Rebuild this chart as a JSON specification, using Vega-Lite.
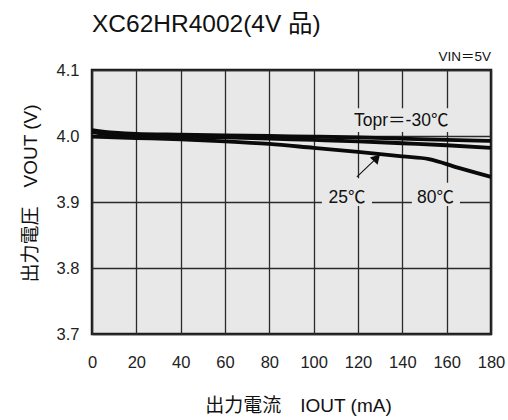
{
  "$schema": "https://vega.github.io/schema/vega-lite/v6.json",
  "width": 399,
  "height": 264,
  "autosize": {"type": "none"},
  "padding": {"left": 92, "top": 70, "right": 17, "bottom": 86},
  "background": "white",
  "title": {
    "text": "XC62HR4002(4V 品)",
    "anchor": "start",
    "frame": "group",
    "offset": 12,
    "fontSize": 24.5,
    "fontWeight": "normal",
    "font": "Liberation Sans, Noto Sans CJK JP",
    "color": "#111"
  },
  "config": {
    "view": {"fill": "#e8e8e8", "stroke": "#1a1a1a", "strokeWidth": 2.5},
    "font": "Liberation Sans, Noto Sans CJK JP",
    "axis": {
      "domain": false,
      "ticks": false,
      "grid": true,
      "gridColor": "#2a2a2a",
      "gridWidth": 1.3,
      "gridOpacity": 1,
      "labelFont": "Liberation Sans",
      "labelFontSize": 16.5,
      "labelColor": "#222",
      "labelFlush": false,
      "labelOverlap": false,
      "titleFont": "Liberation Sans, Noto Sans CJK JP",
      "titleFontSize": 19,
      "titleFontWeight": "normal",
      "titleColor": "#111"
    }
  },
  "datasets": {
    "curves": [
      {"iout": 0, "vout": 4.009, "series": "-30℃"},
      {"iout": 10, "vout": 4.005, "series": "-30℃"},
      {"iout": 20, "vout": 4.003, "series": "-30℃"},
      {"iout": 40, "vout": 4.002, "series": "-30℃"},
      {"iout": 60, "vout": 4.001, "series": "-30℃"},
      {"iout": 80, "vout": 4.0, "series": "-30℃"},
      {"iout": 100, "vout": 3.999, "series": "-30℃"},
      {"iout": 120, "vout": 3.998, "series": "-30℃"},
      {"iout": 140, "vout": 3.996, "series": "-30℃"},
      {"iout": 160, "vout": 3.994, "series": "-30℃"},
      {"iout": 180, "vout": 3.9925, "series": "-30℃"},
      {"iout": 0, "vout": 4.006, "series": "80℃"},
      {"iout": 10, "vout": 4.002, "series": "80℃"},
      {"iout": 20, "vout": 4.0, "series": "80℃"},
      {"iout": 40, "vout": 3.999, "series": "80℃"},
      {"iout": 60, "vout": 3.998, "series": "80℃"},
      {"iout": 80, "vout": 3.996, "series": "80℃"},
      {"iout": 100, "vout": 3.994, "series": "80℃"},
      {"iout": 120, "vout": 3.992, "series": "80℃"},
      {"iout": 140, "vout": 3.989, "series": "80℃"},
      {"iout": 160, "vout": 3.986, "series": "80℃"},
      {"iout": 180, "vout": 3.982, "series": "80℃"},
      {"iout": 0, "vout": 3.999, "series": "25℃"},
      {"iout": 20, "vout": 3.997, "series": "25℃"},
      {"iout": 40, "vout": 3.995, "series": "25℃"},
      {"iout": 60, "vout": 3.992, "series": "25℃"},
      {"iout": 80, "vout": 3.988, "series": "25℃"},
      {"iout": 100, "vout": 3.982, "series": "25℃"},
      {"iout": 120, "vout": 3.976, "series": "25℃"},
      {"iout": 140, "vout": 3.969, "series": "25℃"},
      {"iout": 152, "vout": 3.965, "series": "25℃"},
      {"iout": 165, "vout": 3.952, "series": "25℃"},
      {"iout": 180, "vout": 3.938, "series": "25℃"}
    ],
    "boxes": [
      {"x": 116.5, "x2": 161.5, "y": 4.006, "y2": 4.042},
      {"x": 103.7, "x2": 126.3, "y": 3.894, "y2": 3.936},
      {"x": 144.3, "x2": 166, "y": 3.894, "y2": 3.929}
    ],
    "labels": [
      {"x": 139.5, "y": 4.023, "text": "Topr＝-30℃"},
      {"x": 115, "y": 3.906, "text": "25℃"},
      {"x": 155, "y": 3.906, "text": "80℃"}
    ],
    "arrow": [
      {"x": 119.5, "y": 3.938, "x2": 128.5, "y2": 3.967}
    ],
    "note": [
      {"x": 180, "y": 4.12, "text": "VIN＝5V"}
    ]
  },
  "layer": [
    {
      "data": {"name": "boxes"},
      "mark": {"type": "rect", "fill": "#e8e8e8", "stroke": null},
      "encoding": {
        "x": {"field": "x", "type": "quantitative", "scale": {"domain": [0, 180]},
          "axis": {"values": [0, 20, 40, 60, 80, 100, 120, 140, 160, 180], "labelPadding": 20, "title": "出力電流　IOUT (mA)", "titleX": 206, "titleY": 71, "titleBaseline": "middle"}},
        "x2": {"field": "x2"},
        "y": {"field": "y", "type": "quantitative", "scale": {"domain": [3.7, 4.1]},
          "axis": {"values": [3.7, 3.8, 3.9, 4.0, 4.1], "format": ".1f", "labelPadding": 13, "title": "出力電圧　VOUT (V)", "titleX": -62, "titleY": 123, "titleBaseline": "middle", "titleAngle": -90}},
        "y2": {"field": "y2"}
      }
    },
    {
      "data": {"name": "curves"},
      "mark": {"type": "line", "color": "#0a0a0a", "strokeWidth": 3.8, "interpolate": "monotone"},
      "encoding": {
        "x": {"field": "iout", "type": "quantitative"},
        "y": {"field": "vout", "type": "quantitative"},
        "detail": {"field": "series"}
      }
    },
    {
      "data": {"name": "arrow"},
      "mark": {"type": "rule", "color": "#111", "strokeWidth": 1.1},
      "encoding": {
        "x": {"field": "x", "type": "quantitative"},
        "y": {"field": "y", "type": "quantitative"},
        "x2": {"field": "x2"},
        "y2": {"field": "y2"}
      }
    },
    {
      "data": {"name": "arrow"},
      "mark": {"type": "point", "shape": "triangle-up", "filled": true, "color": "#0a0a0a", "opacity": 1, "size": 110, "angle": 43},
      "encoding": {
        "x": {"field": "x2", "type": "quantitative"},
        "y": {"field": "y2", "type": "quantitative"}
      }
    },
    {
      "data": {"name": "labels"},
      "mark": {"type": "text", "fontSize": 17.5, "color": "#111", "align": "center", "baseline": "middle", "font": "Liberation Sans, Noto Sans CJK JP"},
      "encoding": {
        "x": {"field": "x", "type": "quantitative"},
        "y": {"field": "y", "type": "quantitative"},
        "text": {"field": "text"}
      }
    },
    {
      "data": {"name": "note"},
      "mark": {"type": "text", "fontSize": 13.5, "color": "#111", "align": "right", "baseline": "middle", "clip": false, "font": "Liberation Sans, Noto Sans CJK JP"},
      "encoding": {
        "x": {"field": "x", "type": "quantitative"},
        "y": {"field": "y", "type": "quantitative"},
        "text": {"field": "text"}
      }
    }
  ]
}
